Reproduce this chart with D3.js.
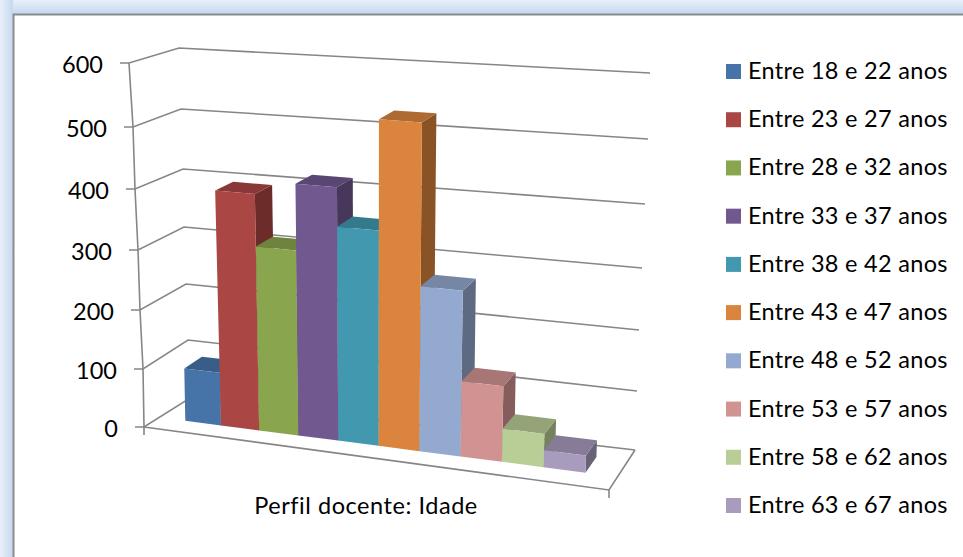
<!DOCTYPE html>
<html><head><meta charset="utf-8">
<script src="https://cdn.jsdelivr.net/npm/d3@7"></script>
<style>html,body{margin:0;padding:0;background:#fff;overflow:hidden}svg{display:block}text{font-family:Lato,"Open Sans",sans-serif;fill:#000}</style>
</head><body><svg id="c" width="963" height="557"></svg>
<script>
const categories=["Entre 18 e 22 anos","Entre 23 e 27 anos","Entre 28 e 32 anos","Entre 33 e 37 anos","Entre 38 e 42 anos","Entre 43 e 47 anos","Entre 48 e 52 anos","Entre 53 e 57 anos","Entre 58 e 62 anos","Entre 63 e 67 anos"];
const values=[90,396,310,418,355,530,272,125,55,28];
const colors=["#4674A9","#AA4643","#89A54E","#71588F","#4198AF","#DB843D","#93A9CF","#D19392","#B9CD96","#A99BBD"];
const ticks=[0,100,200,300,400,500,600];
const axisTitle="Perfil docente: Idade";

const svg=d3.select("#c"),defs=svg.append("defs");
function grad(id,x2,y2,stops){const g=defs.append("linearGradient").attr("id",id).attr("x1",0).attr("y1",0).attr("x2",x2).attr("y2",y2);
 stops.forEach(s=>g.append("stop").attr("offset",s[0]).attr("stop-color",s[1]));}
grad("gT",0,1,[[0,"#e9f0f9"],[1,"#c5d8ef"]]);
grad("gL",1,0,[[0,"#e9f0f9"],[1,"#c5d8ef"]]);
svg.append("rect").attr("width",963).attr("height",14).attr("fill","url(#gT)");
svg.append("rect").attr("width",13).attr("height",557).attr("fill","url(#gL)");
svg.append("path").attr("d","M13.5,557V14.5H963").attr("fill","none").attr("stroke","#8c8c8c").attr("stroke-width",2);

// Box corner scales: each maps a value to a screen coordinate on one vertical edge
const sc=r=>d3.scaleLinear().domain(ticks).range(r);
const FLx=sc([144,143,140,138,135,133,129]),FLy=sc([427,369,310,250,189,127,63]);
const BLx=sc([190,188,186,184,183,181,179]),BLy=sc([398,340,284,227,169,109,48]);
const BRx=sc([635,637,639,642,645,648,650]),BRy=sc([450,391,330,268,204,139,73]);
const FRx=sc([609,611,614,616,619,621,624]),FRy=sc([490,428,364,300,234,168,99]);
const lerp=(a,b,t)=>a+(b-a)*t;
// u: along the category axis, v: value, w: depth (0 front, 1 back)
function P(u,v,w){
 const fx=lerp(FLx(v),FRx(v),u),fy=lerp(FLy(v),FRy(v),u),bx=lerp(BLx(v),BRx(v),u),by=lerp(BLy(v),BRy(v),u);
 return [lerp(fx,bx,w),lerp(fy,by,w)];
}
const line=d3.line();
const quad=a=>line(a)+"Z";
const g=svg.append("g");
const stroke={fill:"none",stroke:"#868686","stroke-width":1.6};
function seg(a){const p=g.append("path").attr("d",line(a));Object.entries(stroke).forEach(([k,v])=>p.attr(k,v));}
ticks.forEach(v=>{
 seg([[FLx(v)-9,FLy(v)],[FLx(v),FLy(v)],[BLx(v),BLy(v)],[BRx(v),BRy(v)]]);
});
seg([...ticks.slice().reverse().map(v=>[FLx(v),FLy(v)]),[FLx(0),FLy(0)+8]]);
seg([[FLx(0),FLy(0)],[FRx(0),FRy(0)],[BRx(0),BRy(0)]]);
seg([[FRx(0),FRy(0)],[FRx(0),FRy(0)+8]]);
const FS=23.5;
g.selectAll("text.tk").data(ticks).join("text").attr("class","tk")
 .attr("x",v=>FLx(v)-26).attr("y",v=>FLy(v)+10).attr("text-anchor","end").attr("font-size",FS).text(d=>d);

// bars
const uScale=d3.scalePow().exponent(1.05).domain([0,10]).range([0.057,0.93]);
const W0=0.33,W1=0.73;
const shade=(c,k)=>{const r=d3.rgb(c);return d3.rgb(r.r*k,r.g*k,r.b*k).formatHex();};
const bars=g.selectAll("g.bar").data(values).join("g").attr("class","bar");
bars.each(function(v,i){
 const s=d3.select(this),u0=uScale(i),u1=uScale(i+1),c=colors[i];
 s.append("path").attr("d",quad([P(u1,0,W0),P(u1,0,W1),P(u1,v,W1),P(u1,v,W0)])).attr("fill",shade(c,.63));
 s.append("path").attr("d",quad([P(u0,v,W0),P(u1,v,W0),P(u1,v,W1),P(u0,v,W1)])).attr("fill",shade(c,.8));
 s.append("path").attr("d",quad([P(u0,0,W0),P(u1,0,W0),P(u1,v,W0),P(u0,v,W0)])).attr("fill",c);
});

svg.append("text").attr("x",366).attr("y",514).attr("text-anchor","middle").attr("font-size",FS).attr("letter-spacing",.55).text(axisTitle);

const ly=d3.scaleLinear().domain([0,9]).range([64,498]);
const lg=svg.selectAll("g.leg").data(categories).join("g").attr("class","leg").attr("transform",(d,i)=>`translate(726,${ly(i)})`);
lg.append("rect").attr("width",15).attr("height",15).attr("fill",(d,i)=>colors[i]);
lg.append("text").attr("x",22).attr("y",15).attr("font-size",FS).attr("letter-spacing",.3).text(d=>d);
</script></body></html>
